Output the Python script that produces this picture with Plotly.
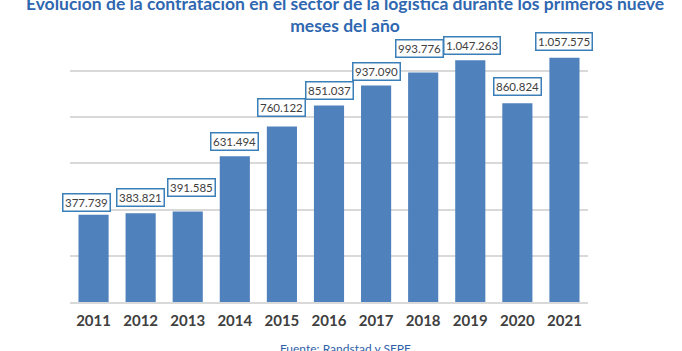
import plotly.graph_objects as go

years = ["2011", "2012", "2013", "2014", "2015", "2016", "2017", "2018", "2019", "2020", "2021"]
values = [377739, 383821, 391585, 631494, 760122, 851037, 937090, 993776, 1047263, 860824, 1057575]
title_text = "Evolución de la contratación en el sector de la logística durante los primeros nueve<br>meses del año"
source_text = "Fuente: Randstad y SEPE"

def fmt(v):
    return f"{v:,}".replace(",", ".")

# label nudges (pixels) to mimic the reference's label placement
label_nudge = {0: (-7, -2), 1: (0, 1), 2: (4, 10), 4: (0, 4), 7: (-4, 10), 8: (2, 0), 9: (0, 2), 10: (0, 2)}

fig = go.Figure(go.Bar(x=years, y=values, marker=dict(color="#4f81bd", line=dict(width=0)), hoverinfo="skip"))

annotations = []
for i, v in enumerate(values):
    dx, dy = label_nudge.get(i, (0, 0))
    annotations.append(dict(
        x=i, y=v, xref="x", yref="y", text=fmt(v), showarrow=False,
        yanchor="bottom", yshift=5 + dy, xshift=dx,
        font=dict(family="Lato", size=11.5, color="#404040"),
        bordercolor="#3a7fb8", borderwidth=1.5, borderpad=1.5, bgcolor="white",
    ))
annotations.append(dict(
    x=(345 - 70) / 518, y=-46 / 254, xref="paper", yref="paper", text=source_text, showarrow=False,
    yanchor="middle", font=dict(family="Lato", size=12, color="#2f5fa8"),
))

fig.update_layout(
    width=682, height=351,
    margin=dict(l=70, r=94, t=48, b=49),
    paper_bgcolor="white", plot_bgcolor="white",
    bargap=0.36,
    showlegend=False,
    title=dict(text=title_text, x=345 / 682, xanchor="center", xref="container",
               y=1 - 9.5 / 351, yanchor="middle", yref="container",
               font=dict(family="Lato", size=17.5, color="#2f67b0", weight="bold")),
    xaxis=dict(type="category", range=[-0.5, len(years) - 0.5], autorange=False,
               showline=True, linecolor="#d9d9d9", linewidth=1.5, ticks="", ticklabelstandoff=4,
               tickfont=dict(family="Lato", size=15, color="#404040", weight="bold")),
    yaxis=dict(range=[0, 1100000], autorange=False, dtick=200000, showticklabels=False,
               gridcolor="#d9d9d9", gridwidth=1.5, zeroline=False, showline=False),
    annotations=annotations,
)
fig.update_yaxes(automargin=False)
fig.update_xaxes(automargin=False)
fig.write_html("out.html")
